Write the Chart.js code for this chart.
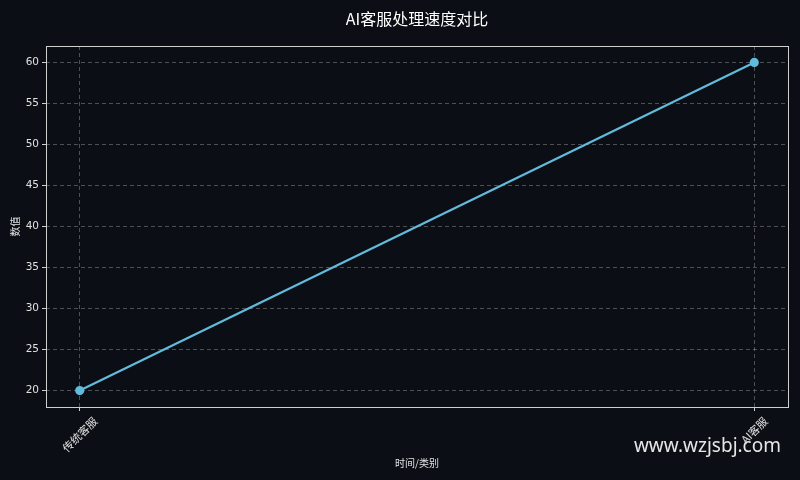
<!DOCTYPE html>
<html>
<head>
<meta charset="utf-8">
<script src="https://cdn.jsdelivr.net/npm/chart.js@4/dist/chart.umd.min.js"></script>
<style>
  html, body { margin: 0; padding: 0; background: #0b0e14; }
  #wrap { width: 800px; height: 480px; }
</style>
</head>
<body>
<div id="wrap"><canvas id="speedChart"></canvas></div>
<script>
// data
var categories = ['传统客服', 'AI客服'];
var speedValues = [20, 60];
var yTickValues = [20, 25, 30, 35, 40, 45, 50, 55, 60];
var chartTitle = 'AI客服处理速度对比';
var FONT = '"Noto Sans CJK SC", "DejaVu Sans", sans-serif';

var points = categories.map(function(c, i){
	return { x: i, y: speedValues[i] };
});

// title over the plot, frame, centred rotated x labels, watermark
var extras = {
	id: 'extras',
	afterDatasetsDraw: function(chart){
		var ctx = chart.ctx, a = chart.chartArea;
		ctx.save();
		ctx.strokeStyle = '#cfcfcf';
		ctx.lineWidth = 1;
		ctx.strokeRect(a.left + 0.5, a.top + 0.5, a.right - a.left, a.bottom - a.top);
		ctx.restore();
	},
	afterDraw: function(chart){
		var ctx = chart.ctx, a = chart.chartArea, xs = chart.scales.x;
		ctx.save();
		// title
		ctx.font = '16px ' + FONT;
		ctx.fillStyle = '#ffffff';
		ctx.textAlign = 'center';
		ctx.textBaseline = 'middle';
		ctx.fillText(chartTitle, (a.left + a.right) / 2, 19);

		// x tick labels, rotated 45° and centred on the tick
		ctx.font = '11px ' + FONT;
		ctx.fillStyle = '#e0e0e0';
		categories.forEach(function(c, i){
			var w = ctx.measureText(c).width, h = 11;
			var half = (w + h) / (2 * Math.SQRT2);
			ctx.save();
			ctx.translate(xs.getPixelForValue(i), a.bottom + 8 + half);
			ctx.rotate(-Math.PI / 4);
			ctx.fillText(c, 0, 0);
			ctx.restore();
		});

		// watermark
		ctx.font = '19px "Noto Sans", sans-serif';
		ctx.fillStyle = '#e6e6e6';
		ctx.textAlign = 'right';
		ctx.fillText('www.wzjsbj.com', 781, 447);
		ctx.restore();
	}
};

var ctx = document.getElementById('speedChart');
var speedChart = new Chart(ctx, {
	type: 'line',
	data: {
		datasets: [{
			label: '处理速度',
			data: points,
			borderColor: '#62bbdc',
			backgroundColor: '#62bbdc',
			borderWidth: 2.2,
			pointRadius: 3.5,
			pointHoverRadius: 3.5,
			tension: 0
		}]
	},
	options: {
		responsive: true,
		maintainAspectRatio: false,
		animation: false,
		layout: { padding: { left: 9, right: 12, top: 46, bottom: 11 } },
		plugins: {
			legend: { display: false },
			tooltip: { enabled: false },
			title: { display: false }
		},
		scales: {
			x: {
				type: 'linear',
				min: -0.05,
				max: 1.05,
				afterBuildTicks: function(scale){
					scale.ticks = categories.map(function(c, i){ return { value: i }; });
				},
				afterFit: function(scale){ scale.height = 62; },
				ticks: { display: false },
				grid: {
					color: 'rgba(160,160,160,0.45)',
					tickColor: '#cfcfcf',
					tickLength: 4,
					drawTicks: true
				},
				border: { display: false, dash: [4, 3] },
				title: {
					display: true,
					text: '时间/类别',
					color: '#e0e0e0',
					font: { family: FONT, size: 10 },
					padding: { top: 0, bottom: 0 }
				}
			},
			y: {
				min: 18,
				max: 62,
				afterBuildTicks: function(scale){
					scale.ticks = yTickValues.map(function(v){ return { value: v }; });
				},
				afterFit: function(scale){ scale.width = 37; },
				ticks: {
					color: '#e0e0e0',
					font: { family: '"DejaVu Sans", sans-serif', size: 10.5 },
					padding: 3
				},
				grid: {
					color: 'rgba(160,160,160,0.45)',
					tickColor: '#cfcfcf',
					tickLength: 4
				},
				border: { display: false, dash: [4, 3] },
				title: {
					display: true,
					text: '数值',
					color: '#e0e0e0',
					font: { family: FONT, size: 10 },
					padding: { top: 0, bottom: 0 }
				}
			}
		}
	},
	plugins: [extras]
});
</script>
</body>
</html>
